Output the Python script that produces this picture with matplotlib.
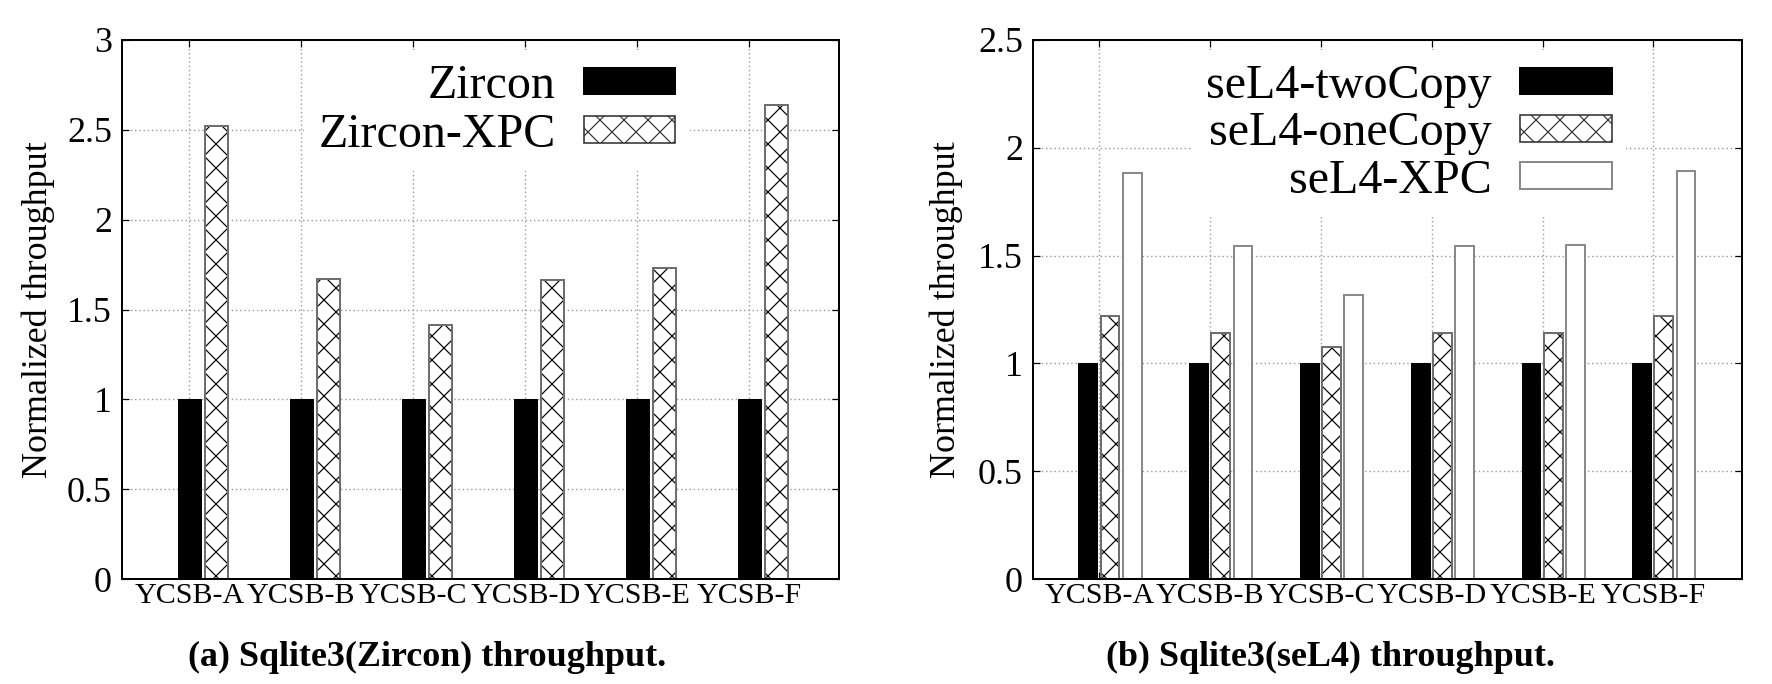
import numpy as np
import matplotlib
matplotlib.use("Agg")
import matplotlib.pyplot as plt
from matplotlib.patches import Patch

# =========================
# data
# =========================

workloads = ["YCSB-A", "YCSB-B", "YCSB-C", "YCSB-D", "YCSB-E", "YCSB-F"]

zircon = [1, 1, 1, 1, 1, 1]
zircon_xpc = [2.524, 1.670, 1.413, 1.663, 1.731, 2.636]

sel4_two_copy = [1, 1, 1, 1, 1, 1]
sel4_one_copy = [1.218, 1.141, 1.077, 1.139, 1.143, 1.222]
sel4_xpc = [1.883, 1.544, 1.319, 1.544, 1.550, 1.891]

# =========================
# style
# =========================

plt.rcParams["font.family"] = ["Liberation Serif", "DejaVu Serif"]
plt.rcParams["hatch.linewidth"] = 0.6
plt.rcParams["axes.linewidth"] = 1.0

HATCH_EDGE = "#6e6e6e"
GRID_KW = dict(color="#9a9a9a", linestyle=(0, (1, 2)), linewidth=0.7)

fig = plt.figure(figsize=(1772 / 144, 684 / 144), dpi=144)

ax1 = fig.add_axes([122 / 1772, 105 / 684, 717 / 1772, 539 / 684])
ax2 = fig.add_axes([1033 / 1772, 105 / 684, 709 / 1772, 539 / 684])

x = np.arange(len(workloads))


def hatched_bar(ax, xs, vals, w):
    ax.bar(xs, vals, w, color="white", edgecolor="black", hatch="xx",
           linewidth=0, zorder=2)
    ax.bar(xs, vals, w, fill=False, edgecolor=HATCH_EDGE, linewidth=1.0,
           zorder=3)


def style_axes(ax, ymax):
    ax.set_xlim(-0.6, 5.8)
    ax.set_ylim(0, ymax)
    ax.set_yticks(np.arange(0, ymax + 0.01, 0.5))
    ax.set_yticklabels([f"{v:g}" for v in np.arange(0, ymax + 0.01, 0.5)])
    ax.set_xticks(x)
    ax.set_xticklabels(workloads, fontsize=15)
    ax.tick_params(axis="y", labelsize=18, pad=5)
    ax.tick_params(axis="x", pad=2)
    ax.tick_params(direction="in", length=3.5, width=0.6,
                   top=True, right=True)
    ax.set_axisbelow(True)
    ax.grid(True, **GRID_KW)
    ax.set_ylabel("Normalized throughput", fontsize=18)
    for s in ax.spines.values():
        s.set_linewidth(1.0)
        s.set_zorder(10)


def white_legend(leg):
    frame = leg.get_frame()
    frame.set_edgecolor("none")
    frame.set_facecolor("white")
    frame.set_alpha(1)
    leg.set_zorder(4)


# =========================
# (a) Zircon
# =========================

w1 = 0.205
ax1.bar(x, zircon, w1, color="black", edgecolor="black", linewidth=0.5,
        zorder=2)
hatched_bar(ax1, x + 0.245, zircon_xpc, w1)
style_axes(ax1, 3.0)
ax1.yaxis.set_label_coords(-0.094, 0.5)

h1 = [Patch(facecolor="black", edgecolor="black", label="Zircon"),
      Patch(facecolor="white", edgecolor="#333333", hatch="xx",
            linewidth=0.8, label="Zircon-XPC")]
leg1 = ax1.legend(handles=h1, loc="upper right",
                  bbox_to_anchor=(0.792, 0.982), fontsize=24,
                  markerfirst=False, handlelength=1.9, handleheight=0.48,
                  handletextpad=0.6, labelspacing=0.1, borderpad=0.3,
                  borderaxespad=0.0, frameon=True, fancybox=False)
white_legend(leg1)

# =========================
# (b) seL4
# =========================

w2 = 0.17
ax2.bar(x - 0.105, sel4_two_copy, w2, color="black", edgecolor="black",
        linewidth=0.5, zorder=2)
hatched_bar(ax2, x + 0.095, sel4_one_copy, w2)
ax2.bar(x + 0.295, sel4_xpc, w2, color="white", edgecolor="#8a8a8a",
        linewidth=1.0, zorder=2)
style_axes(ax2, 2.5)
ax2.yaxis.set_label_coords(-0.099, 0.5)

h2 = [Patch(facecolor="black", edgecolor="black", label="seL4-twoCopy"),
      Patch(facecolor="white", edgecolor="#333333", hatch="xx",
            linewidth=0.8, label="seL4-oneCopy"),
      Patch(facecolor="white", edgecolor="#8a8a8a", linewidth=1.0,
            label="seL4-XPC")]
leg2 = ax2.legend(handles=h2, loc="upper right",
                  bbox_to_anchor=(0.8365, 0.982), fontsize=24,
                  markerfirst=False, handlelength=1.9, handleheight=0.48,
                  handletextpad=0.6, labelspacing=0.07, borderpad=0.3,
                  borderaxespad=0.0, frameon=True, fancybox=False)
white_legend(leg2)

# =========================
# captions
# =========================

fig.text(0.2413, 0.026, "(a) Sqlite3(Zircon) throughput.", ha="center",
         va="baseline", fontsize=18, fontweight="bold")
fig.text(0.7506, 0.026, "(b) Sqlite3(seL4) throughput.", ha="center",
         va="baseline", fontsize=18, fontweight="bold")

fig.savefig("out.png", dpi=144)
